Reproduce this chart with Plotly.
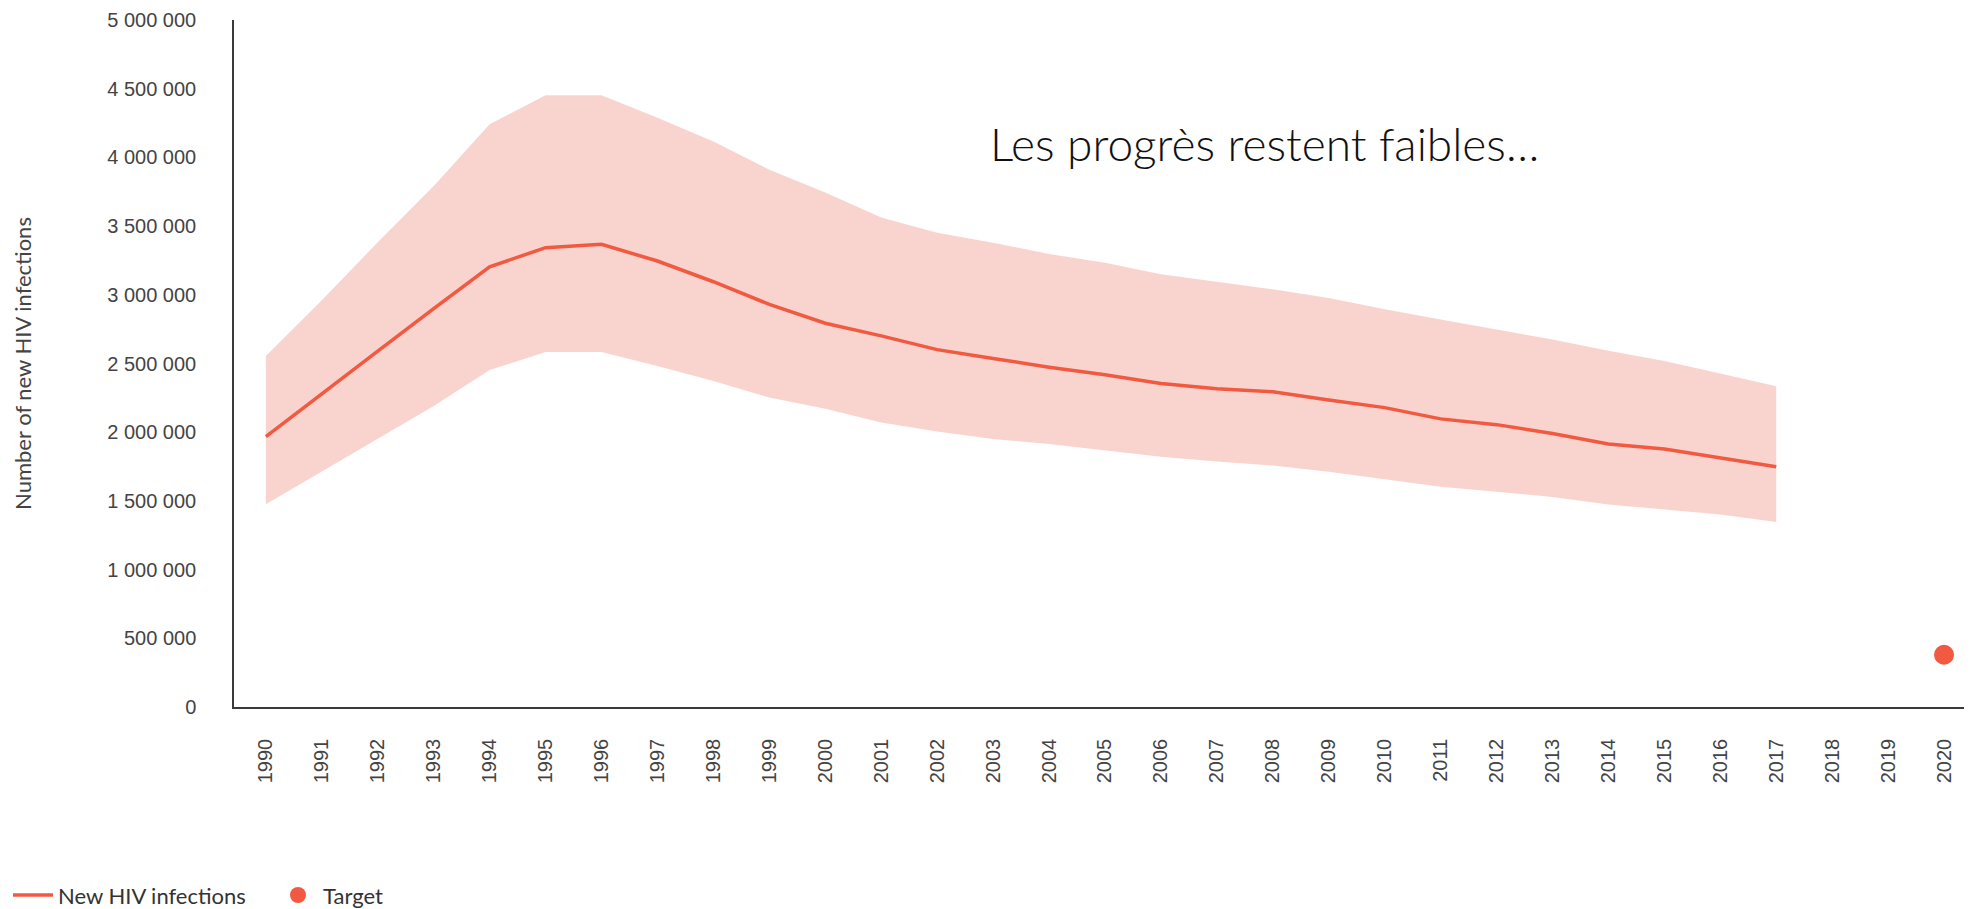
import plotly.graph_objects as go

years = list(range(1990, 2018))
new_infections = [1967000, 2275000, 2590000, 2900000, 3204000, 3343000, 3367000, 3246000,
                  3095000, 2930000, 2793000, 2701000, 2601000, 2537000, 2473000, 2418000,
                  2354000, 2317000, 2295000, 2234000, 2179000, 2097000, 2055000, 1990000,
                  1914000, 1877000, 1813000, 1749000]
upper = [2555000, 2960000, 3382000, 3792000, 4241000, 4452000, 4452000, 4289000,
         4115000, 3910000, 3745000, 3562000, 3452000, 3379000, 3297000, 3233000,
         3150000, 3095000, 3040000, 2976000, 2894000, 2821000, 2747000, 2674000,
         2592000, 2518000, 2427000, 2335000]
lower = [1475000, 1712000, 1950000, 2190000, 2452000, 2583000, 2583000, 2482000,
         2372000, 2253000, 2170000, 2070000, 2005000, 1951000, 1914000, 1868000,
         1822000, 1786000, 1758000, 1712000, 1658000, 1603000, 1566000, 1529000,
         1474000, 1438000, 1401000, 1346000]
target_year = [2020]
target_value = [380000]
all_years = list(range(1990, 2021))

red = "#F15A40"
band = "rgba(244,170,158,0.5)"
tick_font = dict(family="Liberation Sans, Arial", size=20, color="#444444")

fig = go.Figure()
fig.add_trace(go.Scatter(x=years, y=upper, mode="lines", line=dict(width=0),
                         showlegend=False, hoverinfo="skip"))
fig.add_trace(go.Scatter(x=years, y=lower, mode="lines", line=dict(width=0),
                         fill="tonexty", fillcolor=band, showlegend=False, hoverinfo="skip"))
fig.add_trace(go.Scatter(x=years, y=new_infections, mode="lines", name="New HIV infections",
                         line=dict(color=red, width=3.5)))
fig.add_trace(go.Scatter(x=target_year, y=target_value, mode="markers", name="Target",
                         marker=dict(color=red, size=20)))

fig.add_annotation(text="Les progrès restent faibles…", xref="paper", yref="paper",
                   x=0.593, y=0.82, xanchor="center", yanchor="middle", showarrow=False,
                   font=dict(family="Lato", size=46, color="#111111", weight=300))

fig.update_layout(
    width=1972, height=909,
    margin=dict(l=226, r=8, t=12, b=210),
    plot_bgcolor="white", paper_bgcolor="white",
    separators=". ",
    font=dict(family="Lato", color="#444444", size=19),
    legend=dict(orientation="h", xref="container", yref="container",
                x=0.0, xanchor="left", y=0.024, yanchor="middle",
                font=dict(family="Lato", size=22, color="#333333"), traceorder="normal",
                entrywidth=210, itemwidth=40),
)
fig.update_xaxes(range=[1989.43, 2020.5], tickvals=all_years, tickangle=-90,
                 showgrid=False, zeroline=False, showline=True, linecolor="#3a3a3a",
                 linewidth=1.5, ticklabelstandoff=22, tickfont=tick_font, automargin=False)
fig.update_yaxes(range=[0, 5000000], dtick=500000, tickformat=",d",
                 showgrid=False, zeroline=False, showline=True, linecolor="#3a3a3a",
                 linewidth=1.5, ticklabelstandoff=32, tickfont=tick_font, automargin=False,
                 title=dict(text="Number of new HIV infections", standoff=70,
                            font=dict(family="Lato", size=22, color="#444444")))

fig.write_html("out.html")
